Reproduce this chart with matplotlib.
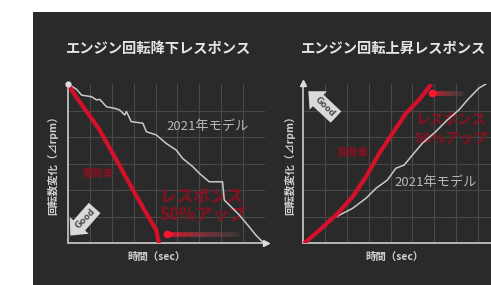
import numpy as np
import matplotlib
matplotlib.use("Agg")
import matplotlib.pyplot as plt
from matplotlib.collections import LineCollection
from matplotlib.patches import Rectangle
from matplotlib.colors import to_rgba

plt.rcParams['font.family'] = ['Noto Sans CJK JP', 'DejaVu Sans']

# ---- data ----
titles = ["エンジン回転降下レスポンス", "エンジン回転上昇レスポンス"]
ylabel = "回転数変化（⊿rpm）"
xlabel = "時間（sec）"
old_label = "2021年モデル"
new_label = "開発車"
gain_label = ["レスポンス", "50%アップ"]

left_old_x = [0, 0.39, 0.62, 1.08, 1.30, 1.45, 1.76, 2.14, 2.36, 2.59, 2.67, 2.89, 3.42, 3.58,
              4.03, 4.48, 4.94, 5.24, 5.70, 6.0, 6.45, 7.06, 7.14, 7.52, 7.82, 8.27, 8.58, 8.88]
left_old_y = [6.0, 5.8, 5.58, 5.52, 5.40, 5.42, 5.14, 5.08, 5.02, 4.83, 4.96, 4.58, 4.52, 4.20,
              4.08, 3.76, 3.51, 3.19, 2.88, 2.63, 2.31, 2.31, 1.62, 1.31, 1.06, 0.62, 0.30, 0.05]
left_new_x = [0, 0.3, 1.45, 2.21, 2.97, 3.58, 4.03, 4.15]
left_new_y = [6.0, 5.6, 4.26, 3.13, 2.0, 1.12, 0.49, 0.0]

right_new_x = [0.08, 0.76, 1.59, 2.27, 2.88, 3.48, 4.09, 4.70, 5.30, 5.83]
right_new_y = [0.01, 0.49, 1.12, 1.75, 2.50, 3.38, 4.14, 4.89, 5.40, 5.96]
right_old_x = [1.45, 1.59, 2.27, 2.88, 3.33, 3.86, 4.24, 4.62, 5.0, 5.45, 6.06, 6.59, 7.12, 7.58, 8.03, 8.41]
right_old_y = [0.98, 1.02, 1.31, 1.69, 2.06, 2.38, 2.82, 2.94, 3.32, 3.76, 4.20, 4.64, 5.02, 5.46, 5.84, 6.03]

BG = '#2b2a2a'
GRID = '#4a4848'
AXC = '#b5b5b5'
OLD = '#c9c9c9'
RED = '#d4102a'
DIMRED = '#7c1422'
TXT = '#e6e6e6'

W, H = 491, 285
fig = plt.figure(figsize=(W / 100, H / 100), dpi=100, facecolor='white')
fig.patches.append(Rectangle((33 / W, 0), 1 - 33 / W, (H - 12) / H, transform=fig.transFigure,
                             facecolor=BG, edgecolor='none', zorder=-10))


def px_axes(x0, y0, x1, y1):
    return fig.add_axes([x0 / W, 1 - y1 / H, (x1 - x0) / W, (y1 - y0) / H])


def style(ax):
    ax.set_facecolor('none')
    ax.set_xlim(0, 9)
    ax.set_ylim(0, 6)
    ax.set_xticks(np.arange(1, 9))
    ax.set_yticks(np.arange(1, 6))
    ax.tick_params(length=0, labelbottom=False, labelleft=False)
    ax.grid(True, color=GRID, lw=0.8)
    for s in ['top', 'right']:
        ax.spines[s].set_visible(False)
    for s in ['left', 'bottom']:
        ax.spines[s].set_color(AXC)
        ax.spines[s].set_linewidth(1.4)


def grad_arrow(ax, x0, x1, y, n=60):
    xs = np.linspace(x0, x1, n + 1)
    segs = [[(xs[i], y), (xs[i + 1], y)] for i in range(n)]
    c0 = np.array(to_rgba('#ff1530'))
    c1 = np.array(to_rgba('#7a5c5c'))
    cols = []
    for i in range(n):
        t = i / (n - 1)
        c = c0 * (1 - t) + c1 * t
        c[3] = 1.0 - 0.75 * t
        cols.append(c)
    ax.add_collection(LineCollection(segs, colors=cols, linewidths=3.4, capstyle='butt', zorder=5))
    ax.plot([x0], [y], marker='o', ms=5.5, color='#ff1530', mec='none', zorder=6)


def good_arrow(ax, tip, tail, rot):
    ax.annotate('', xy=tip, xytext=tail, zorder=7, annotation_clip=False,
                arrowprops=dict(arrowstyle='simple,head_length=0.7,head_width=1.3,tail_width=0.8',
                                fc='#d9d9d9', ec='none', mutation_scale=14))
    mx = tip[0] + (tail[0] - tip[0]) * 0.6
    my = tip[1] + (tail[1] - tip[1]) * 0.6
    ax.text(mx, my, 'Good', rotation=rot, ha='center', va='center', fontsize=6,
            color='#505050', fontweight='bold', family='DejaVu Sans', zorder=8,
            rotation_mode='anchor')


def red_text(ax, x, y, s, size):
    ax.text(x, y, s, color=DIMRED, fontsize=size, fontweight='black', ha='left', va='center', zorder=2)


# ---- left panel ----
axL = px_axes(68, 84, 265, 243)
style(axL)
axL.plot(left_old_x, left_old_y, color=OLD, lw=1.1, zorder=3)
axL.plot(left_new_x, left_new_y, color=RED, lw=3.0, zorder=4, solid_capstyle='round')
axL.plot([9.05], [0], marker='>', ms=5, color='#dddddd', clip_on=False, zorder=6)
axL.plot([0], [6.0], marker='o', ms=3.5, color='#dddddd', clip_on=False, zorder=6)
grad_arrow(axL, 4.5, 7.8, 0.34)
axL.text(4.5, 4.38, old_label, color='#b8b8b8', fontsize=9.5, ha='left', va='center', zorder=5)
axL.text(1.36, 2.64, new_label, color=DIMRED, fontsize=7.5, fontweight='black', ha='center', va='center')
red_text(axL, 4.2, 1.74, gain_label[0], 12)
red_text(axL, 4.2, 1.10, gain_label[1], 12)
good_arrow(axL, (0.02, 0.2), (1.3, 1.4), 45)

# ---- right panel ----
axR = px_axes(303, 84, 500, 243)
style(axR)
axR.plot(right_old_x, right_old_y, color=OLD, lw=1.1, zorder=3)
axR.plot(right_new_x, right_new_y, color=RED, lw=3.0, zorder=4, solid_capstyle='round')
axR.plot([0], [6.05], marker='^', ms=4, color='#dddddd', clip_on=False, zorder=6)
grad_arrow(axR, 5.9, 7.3, 5.66)
axR.text(4.18, 2.3, old_label, color='#b8b8b8', fontsize=9.5, ha='left', va='center', zorder=5)
axR.text(2.27, 3.4, new_label, color=DIMRED, fontsize=7.5, fontweight='black', ha='center', va='center')
red_text(axR, 5.12, 4.64, gain_label[0], 10.2)
red_text(axR, 5.12, 3.96, gain_label[1], 10.2)
good_arrow(axR, (0.15, 5.8), (1.6, 4.68), -45)

# ---- titles and labels ----
for cx, t in zip([159, 394], titles):
    fig.text(cx / W, 1 - 49 / H, t, ha='center', va='center', fontsize=10.3, fontweight='bold', color=TXT)
for cx in [53, 290]:
    fig.text(cx / W, 1 - 163 / H, ylabel, ha='center', va='center', rotation=90, fontsize=7.5,
             color='#d0d0d0', fontweight='bold')
for cx in [157, 395]:
    fig.text(cx / W, 1 - 257 / H, xlabel, ha='center', va='center', fontsize=7.5,
             color='#d0d0d0', fontweight='bold')

fig.savefig('out.png', dpi=100, facecolor='white')
